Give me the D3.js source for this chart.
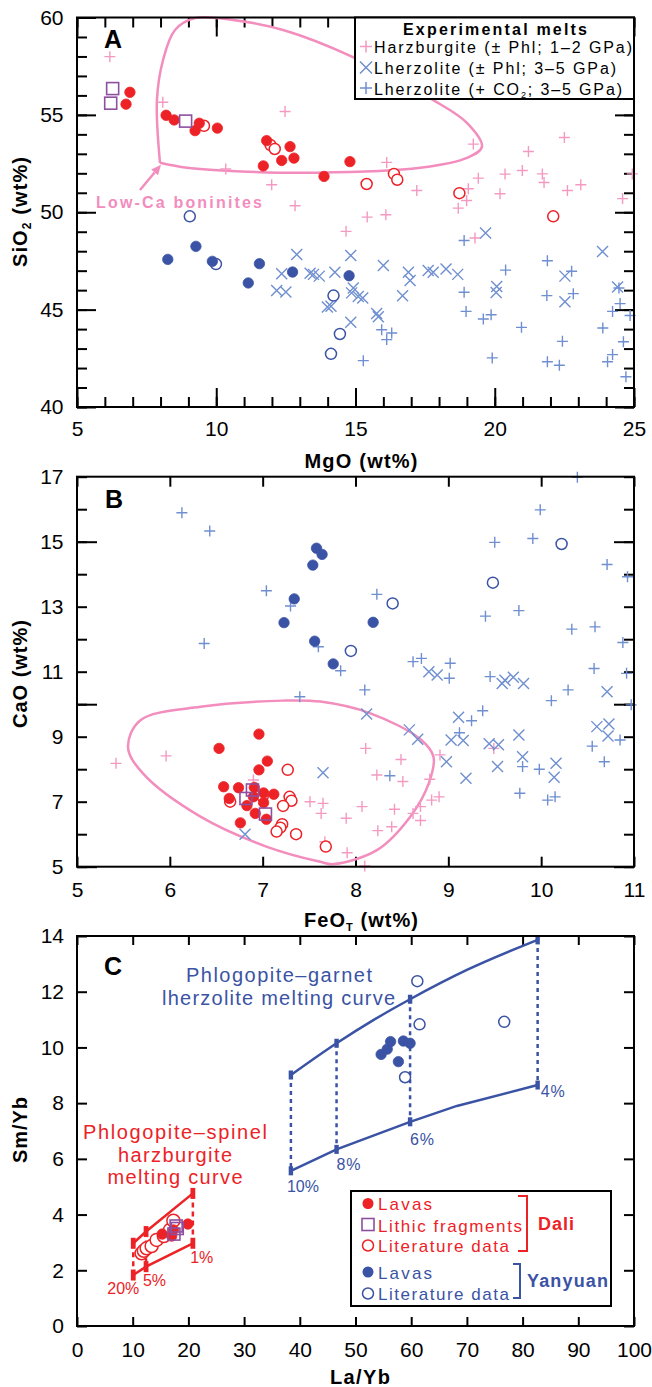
<!DOCTYPE html>
<html><head><meta charset="utf-8">
<script src="https://cdn.jsdelivr.net/npm/d3@7"></script>
<style>body{margin:0;background:#fff} svg text{font-family:Arial,"Liberation Sans",sans-serif}</style>
</head><body><svg id="c" width="652" height="1387"></svg>
<script>
// ---------- DATA ----------
// Panel A: MgO vs SiO2
const A_harz = [[6.18,57.99],[8.08,55.65],[12.47,55.17],[10.34,52.22],[11.99,51.41],[12.83,50.33],[19.23,53.5],[16.12,52.56],[17.2,51.12],[15.42,49.75],[16.09,49.87],[19.41,51.75],[19.05,51.21],[18.99,50.6],[18.69,50.21],[20.19,50.95],[20.37,51.96],[20.99,52.14],[21.21,53.12],[21.71,51.97],[21.77,51.53],[22.5,53.84],[22.61,51.12],[23.09,51.41],[24.59,50.7],[24.94,51.97],[14.66,49.02],[19.29,48.68]];
const A_lherz = [[12.89,47.83],[12.35,46.84],[12.17,45.98],[12.5,45.9],[13.37,46.87],[13.49,46.81],[13.7,46.72],[13.99,45.14],[14.26,46.92],[14.83,47.78],[14.12,45.17],[14.92,46.11],[14.86,45.86],[15.1,45.68],[15.26,45.6],[14.83,44.35],[16.0,47.27],[15.76,44.8],[15.82,44.63],[16.9,46.92],[16.96,46.49],[16.69,45.71],[17.61,47.01],[17.79,46.92],[18.25,47.09],[18.67,46.81],[19.67,48.93],[20.07,46.19],[20.05,45.88],[22.52,46.72],[22.52,45.41],[23.87,47.98],[24.41,46.16]];
const A_co2 = [[18.9,48.55],[18.9,45.89],[18.97,44.91],[19.59,44.52],[19.87,44.74],[20.39,47.03],[19.91,42.52],[20.96,44.09],[21.89,47.51],[21.87,45.72],[21.89,42.32],[22.32,42.14],[22.43,43.37],[22.76,46.97],[22.82,45.82],[23.88,44.06],[24.23,44.91],[24.5,45.31],[24.86,44.7],[24.62,43.35],[24.05,42.32],[24.23,42.69],[24.71,41.55],[24.46,46.11],[15.28,42.38],[15.94,43.97],[16.12,43.46],[16.3,43.8]];
const A_daliLava = [[6.9,56.16],[6.76,55.55],[8.2,54.98],[8.49,54.74],[9.24,54.19],[9.39,54.57],[10.04,54.32],[11.81,53.68],[12.65,53.37],[12.35,52.66],[12.79,52.78],[11.69,52.38],[13.87,51.84],[14.8,52.6]];
const A_daliLit = [[9.56,54.44],[11.95,53.45],[12.1,53.25],[15.4,51.45],[16.38,51.97],[16.5,51.67],[18.73,50.98],[22.1,49.79]];
const A_lithic = [[6.28,56.35],[6.21,55.6],[8.9,54.68]];
const A_yyLava = [[8.26,47.58],[9.27,48.25],[9.86,47.48],[11.55,47.36],[11.15,46.37],[12.74,46.93],[14.77,46.74]];
const A_yyLit = [[9.99,47.34],[9.05,49.79],[14.21,45.72],[14.44,43.75],[14.12,42.73]];
const A_boninite = [[7.98,52.54],[7.87,55.77],[8.09,57.82],[8.52,59.36],[9.24,59.97],[10.6,59.87],[12.4,59.36],[14.91,57.97],[17.78,55.77],[19.0,54.59],[19.54,53.36],[19.0,52.79],[17.32,52.28],[13.62,52.03],[10.35,52.13],[8.95,52.28],[7.98,52.54]];
const A_xTicks = [5,10,15,20,25];
const A_yTicks = [40,45,50,55,60];

// Panel B: FeOT vs CaO
const B_harz = [[5.42,8.18],[5.96,8.41],[6.9,7.67],[7.51,7.0],[7.63,6.64],[7.65,6.95],[8.11,8.64],[8.49,8.3],[8.23,7.82],[8.51,7.62],[8.8,7.69],[8.91,8.44],[9.49,8.64],[8.82,7.05],[8.9,7.15],[8.7,6.85],[8.62,6.64],[8.7,6.42],[8.42,6.77],[8.07,6.85],[7.9,6.49],[8.39,6.23],[8.24,6.11],[7.91,5.43],[8.1,5.02],[7.67,5.77]];
const B_lherz = [[7.65,7.89],[6.81,6.0],[8.79,11.0],[8.88,10.9],[9.58,10.64],[9.61,10.74],[9.7,10.83],[9.81,10.64],[10.71,10.38],[8.12,9.7],[8.58,9.21],[8.67,8.92],[9.11,9.6],[9.03,8.9],[9.16,8.88],[8.98,8.23],[9.19,7.72],[9.44,8.78],[9.54,8.75],[9.53,8.08],[9.76,9.05],[9.8,8.38],[10.16,8.18],[10.14,7.75],[10.6,9.31],[10.73,9.39],[10.72,9.02]];
const B_co2 = [[6.13,15.89],[6.43,15.33],[7.04,13.49],[7.3,13.02],[6.37,11.87],[7.6,11.77],[10.39,16.98],[9.99,15.98],[9.5,14.98],[9.91,15.1],[10.71,14.3],[10.93,13.92],[9.4,12.71],[9.76,12.88],[10.33,12.31],[10.58,12.38],[10.88,11.9],[8.23,13.38],[8.62,11.31],[8.71,11.41],[9.02,11.26],[10.57,11.1],[7.84,11.03],[9.01,10.8],[9.45,10.85],[8.1,10.44],[10.29,10.44],[10.92,10.95],[10.97,9.98],[10.11,10.11],[9.37,9.8],[9.25,9.49],[9.12,9.12],[8.37,7.8],[10.55,8.71],[10.68,8.23],[10.85,8.9],[9.77,7.26],[9.8,8.08],[9.98,8.0],[10.07,7.05],[10.15,7.15],[7.4,10.23]];
const B_daliLava = [[6.53,8.64],[6.96,9.08],[7.05,8.25],[6.96,7.98],[6.58,7.46],[6.74,7.43],[6.64,7.1],[6.91,7.44],[7.01,7.27],[7.12,7.23],[6.83,6.88],[7.01,6.97],[6.92,6.64],[7.04,6.46],[6.76,6.35],[6.9,7.15]];
const B_daliLit = [[7.27,7.98],[7.29,7.15],[7.31,7.03],[7.22,6.87],[7.0,7.15],[6.65,7.0],[7.21,6.31],[7.19,6.2],[7.15,6.08],[7.36,6.0],[7.68,5.62]];
const B_lithic = [[6.89,7.36],[6.82,7.1],[7.03,6.62]];
const B_yyLava = [[7.58,14.8],[7.64,14.61],[7.54,14.28],[7.34,13.24],[7.23,12.51],[7.56,11.94],[7.76,11.24],[8.19,12.52]];
const B_yyLit = [[8.4,13.1],[7.95,11.64],[9.48,13.74],[10.22,14.93]];
const B_boninite = [[5.55,8.67],[5.68,9.5],[6.33,9.92],[7.22,10.11],[7.62,10.08],[8.16,9.72],[8.7,8.92],[8.84,8.38],[8.79,7.57],[8.59,6.54],[8.23,5.51],[7.76,5.08],[7.62,5.15],[7.04,5.62],[6.33,6.54],[5.71,7.87]];
const B_xTicks = [5,6,7,8,9,10,11];
const B_yTicks = [5,7,9,11,13,15,17];

// Panel C: La/Yb vs Sm/Yb
const C_daliLava = [[15.3,3.3],[17.3,3.45],[19.9,3.66],[17.0,3.23]];
const C_daliLit = [[11.6,2.61],[12.0,2.7],[12.5,2.79],[13.4,2.87],[14.3,3.09],[15.6,3.23],[16.7,3.45],[17.3,3.78]];
const C_lithic = [[17.8,3.59],[18.0,3.5],[17.4,3.3]];
const C_yyLava = [[54.6,9.75],[55.7,9.94],[56.3,10.21],[58.6,10.23],[59.8,10.15],[57.7,9.49]];
const C_yyLit = [[61.1,12.38],[61.5,10.83],[58.9,8.93],[76.7,10.92]];
const C_garnetUpper = [[38.4,9.01],[46.6,10.15],[53.2,10.98],[59.8,11.73],[70,12.78],[82.7,13.86]];
const C_garnetLower = [[38.4,5.57],[46.6,6.34],[59.8,7.33],[68.2,7.9],[82.7,8.65]];
const C_garnetNodes = [[38.4,9.01,5.57],[46.6,10.15,6.34],[59.8,11.73,7.33],[82.7,13.86,8.65]];
const C_garnetLabels = ["10%","8%","6%","4%"];
const C_spinelUpper = [[10.1,2.97],[12.4,3.39],[20.8,4.76]];
const C_spinelLower = [[10.1,1.83],[12.4,2.13],[20.8,2.97]];
const C_spinelNodes = [[10.1,2.97,1.83],[12.4,3.39,2.13],[20.8,4.76,2.97]];
const C_spinelLabels = ["20%","5%","1%"];
const C_xTicks = [0,10,20,30,40,50,60,70,80,90,100];
const C_yTicks = [0,2,4,6,8,10,12,14];

// ---------- STYLE ----------
const PINK="#f49ac2", PINKL="#f28dbd", LBLUE="#6f8fd0", DBLUE="#3a53a4", RED="#ec2227", PURPLE="#8e4fa0";
const svg = d3.select("#c");
const L=77, R=634;

const xA=d3.scaleLinear([5,25],[L,R]), yA=d3.scaleLinear([40,60],[407,17.5]);
const xB=d3.scaleLinear([5,11],[L,R]), yB=d3.scaleLinear([5,17],[866.7,476.7]);
const xC=d3.scaleLinear([0,100],[L,R]), yC=d3.scaleLinear([0,14],[1326,936]);

function tickAxis(axisFn, scale, values, len, tr){
  const g=svg.append("g").attr("transform",tr);
  g.call(axisFn(scale).tickValues(values).tickSize(-len).tickFormat(""));
  g.select(".domain").remove();
  g.selectAll("line").attr("stroke","#000").attr("stroke-width",2);
}
function labelAxis(axisFn, scale, values, pad, tr){
  const g=svg.append("g").attr("transform",tr);
  g.call(axisFn(scale).tickValues(values).tickSize(0).tickPadding(pad).tickFormat(d3.format("d")));
  g.select(".domain").remove();
  g.attr("font-size",21).attr("font-family","Arial, 'Liberation Sans', sans-serif");
  g.selectAll("text").attr("fill","#000");
}
function frame(x,y){
  const [x0,x1]=x.range(), [y0,y1]=y.range();
  svg.append("rect").attr("x",x0).attr("y",y1).attr("width",x1-x0).attr("height",y0-y1)
    .attr("fill","none").attr("stroke","#000").attr("stroke-width",2);
}
function plus(g,data,x,y,s,col,w){
  g.selectAll(null).data(data).enter().append("path")
   .attr("d",d=>{const px=x(d[0]),py=y(d[1]);return `M${px-s},${py}H${px+s}M${px},${py-s}V${py+s}`;})
   .attr("stroke",col).attr("stroke-width",w||1.4).attr("fill","none");
}
function cross(g,data,x,y,s,col){
  g.selectAll(null).data(data).enter().append("path")
   .attr("d",d=>{const px=x(d[0]),py=y(d[1]);return `M${px-s},${py-s}L${px+s},${py+s}M${px-s},${py+s}L${px+s},${py-s}`;})
   .attr("stroke",col).attr("stroke-width",1.4).attr("fill","none");
}
function dots(g,data,x,y,r,col,open){
  g.selectAll(null).data(data).enter().append("circle")
   .attr("cx",d=>x(d[0])).attr("cy",d=>y(d[1])).attr("r",r)
   .attr("fill",open?"#fff":col).attr("stroke",col).attr("stroke-width",open?1.5:0.8);
}
function squares(g,data,x,y,s){
  g.selectAll(null).data(data).enter().append("rect")
   .attr("x",d=>x(d[0])-s/2).attr("y",d=>y(d[1])-s/2).attr("width",s).attr("height",s)
   .attr("fill","none").attr("stroke",PURPLE).attr("stroke-width",1.6);
}
function txt(x,y,s,opt){
  const t=svg.append("text").attr("x",x).attr("y",y).text(s)
   .attr("font-size",opt.size||16).attr("fill",opt.fill||"#000")
   .attr("font-weight",opt.bold?"bold":"normal").attr("text-anchor",opt.anchor||"start");
  if(opt.len) t.attr("textLength",opt.len).attr("lengthAdjust","spacing");
  return t;
}

// ================= PANEL A =================
{
  const minorX=d3.range(5,26,1), minorY=d3.range(40,61,1);
  tickAxis(d3.axisBottom,xA,minorX,10,`translate(0,407)`);
  tickAxis(d3.axisBottom,xA,A_xTicks,19,`translate(0,407)`);
  tickAxis(d3.axisTop,xA,minorX,10,`translate(0,17.5)`);
  tickAxis(d3.axisTop,xA,A_xTicks,19,`translate(0,17.5)`);
  tickAxis(d3.axisLeft,yA,minorY,10,`translate(${L},0)`);
  tickAxis(d3.axisLeft,yA,A_yTicks,19,`translate(${L},0)`);
  tickAxis(d3.axisRight,yA,minorY,10,`translate(${R},0)`);
  tickAxis(d3.axisRight,yA,A_yTicks,19,`translate(${R},0)`);
  labelAxis(d3.axisBottom,xA,A_xTicks,14,`translate(0,407)`);
  labelAxis(d3.axisLeft,yA,A_yTicks,13.5,`translate(${L},0)`);

  const g=svg.append("g");
  g.append("path").datum(A_boninite)
    .attr("d",d3.line().x(d=>xA(d[0])).y(d=>yA(d[1])).curve(d3.curveCatmullRom.alpha(0.5)))
    .attr("fill","none").attr("stroke",PINKL).attr("stroke-width",2.5);
  plus(g,A_harz,xA,yA,5.5,PINK);
  cross(g,A_lherz,xA,yA,5.5,LBLUE);
  plus(g,A_co2,xA,yA,5.5,LBLUE);
  dots(g,A_yyLit,xA,yA,5.5,DBLUE,true);
  dots(g,A_yyLava,xA,yA,5.2,DBLUE,false);
  dots(g,A_daliLit,xA,yA,5.5,RED,true);
  dots(g,A_daliLava,xA,yA,5.2,RED,false);
  squares(g,A_lithic,xA,yA,12);

  // arrow to cusp
  const tip=[xA(A_boninite[0][0])+1, yA(A_boninite[0][1])+2], tail=[140,190];
  const dx=tip[0]-tail[0], dy=tip[1]-tail[1], ln=Math.hypot(dx,dy), ux=dx/ln, uy=dy/ln;
  const bx=tip[0]-10*ux, by=tip[1]-10*uy;
  g.append("line").attr("x1",tail[0]).attr("y1",tail[1]).attr("x2",bx).attr("y2",by).attr("stroke",PINKL).attr("stroke-width",2.5);
  g.append("path").attr("d",`M${tip[0]},${tip[1]}L${bx-4.5*uy},${by+4.5*ux}L${bx+4.5*uy},${by-4.5*ux}Z`).attr("fill",PINKL);
  txt(96,208,"Low-Ca boninites",{size:16,bold:true,fill:PINKL,len:166});

  frame(xA,yA);
  // legend
  svg.append("rect").attr("x",355).attr("y",17.5).attr("width",279).attr("height",81.5)
    .attr("fill","#fff").attr("stroke","#000").attr("stroke-width",2);
  txt(495,35,"Experimental melts",{size:16,bold:true,anchor:"middle",len:184});
  const lg=svg.append("g");
  lg.append("path").attr("d","M360,46.5H372M366,40.5V52.5").attr("stroke",PINK).attr("stroke-width",1.5);
  lg.append("path").attr("d","M360,61.5L372,73.5M360,73.5L372,61.5").attr("stroke",LBLUE).attr("stroke-width",1.5);
  lg.append("path").attr("d","M360,88H372M366,82V94").attr("stroke",LBLUE).attr("stroke-width",1.5);
  txt(374,53,"Harzburgite (± Phl; 1–2 GPa)",{size:16,len:258});
  txt(374,73.5,"Lherzolite (± Phl; 3–5 GPa)",{size:16,len:242});
  const t3=svg.append("text").attr("x",374).attr("y",94.5).attr("font-size",16).attr("textLength",248).attr("lengthAdjust","spacing");
  t3.append("tspan").text("Lherzolite (+ CO");
  t3.append("tspan").attr("font-size",9).attr("dy",3).text("2");
  t3.append("tspan").attr("dy",-3).text("; 3–5 GPa)");

  txt(104,48,"A",{size:25,bold:true});
  txt(361,468,"MgO (wt%)",{size:20,bold:true,anchor:"middle",len:113});
  const yt=svg.append("text").attr("transform","translate(27,212) rotate(-90)").attr("text-anchor","middle")
     .attr("font-size",20).attr("font-weight","bold").attr("textLength",110).attr("lengthAdjust","spacing");
  yt.append("tspan").text("SiO");
  yt.append("tspan").attr("font-size",12).attr("dy",4).text("2");
  yt.append("tspan").attr("dy",-4).text(" (wt%)");
}

// ================= PANEL B =================
{
  const minorY=d3.range(5,18,1), majorY=[5,10,15];
  tickAxis(d3.axisBottom,xB,B_xTicks,10,`translate(0,866.7)`);
  tickAxis(d3.axisTop,xB,B_xTicks,10,`translate(0,476.7)`);
  tickAxis(d3.axisLeft,yB,minorY,10,`translate(${L},0)`);
  tickAxis(d3.axisLeft,yB,majorY,20,`translate(${L},0)`);
  tickAxis(d3.axisRight,yB,minorY,10,`translate(${R},0)`);
  tickAxis(d3.axisRight,yB,majorY,20,`translate(${R},0)`);
  labelAxis(d3.axisBottom,xB,B_xTicks,15,`translate(0,866.7)`);
  labelAxis(d3.axisLeft,yB,B_yTicks,13.5,`translate(${L},0)`);

  const g=svg.append("g");
  g.append("path").datum(B_boninite)
    .attr("d",d3.line().x(d=>xB(d[0])).y(d=>yB(d[1])).curve(d3.curveCatmullRomClosed.alpha(0.5)))
    .attr("fill","none").attr("stroke",PINKL).attr("stroke-width",2.5);
  plus(g,B_harz,xB,yB,5.5,PINK);
  cross(g,B_lherz,xB,yB,5.5,LBLUE);
  plus(g,B_co2,xB,yB,5.5,LBLUE);
  dots(g,B_yyLit,xB,yB,5.5,DBLUE,true);
  dots(g,B_yyLava,xB,yB,5.2,DBLUE,false);
  dots(g,B_daliLit,xB,yB,5.5,RED,true);
  dots(g,B_daliLava,xB,yB,5.2,RED,false);
  squares(g,B_lithic,xB,yB,12);
  frame(xB,yB);

  txt(105,508,"B",{size:25,bold:true});
  const xt=svg.append("text").attr("x",361).attr("y",927).attr("text-anchor","middle")
     .attr("font-size",20).attr("font-weight","bold").attr("textLength",114).attr("lengthAdjust","spacing");
  xt.append("tspan").text("FeO");
  xt.append("tspan").attr("font-size",11).attr("dy",4).text("T");
  xt.append("tspan").attr("dy",-4).text(" (wt%)");
  txt(0,0,"CaO (wt%)",{size:20,bold:true,anchor:"middle",len:108}).attr("x",null).attr("y",null)
     .attr("transform","translate(27,674) rotate(-90)");
}

// ================= PANEL C =================
{
  tickAxis(d3.axisBottom,xC,C_xTicks,9,`translate(0,1326)`);
  tickAxis(d3.axisTop,xC,C_xTicks,9,`translate(0,936)`);
  tickAxis(d3.axisLeft,yC,C_yTicks,10,`translate(${L},0)`);
  tickAxis(d3.axisRight,yC,C_yTicks,10,`translate(${R},0)`);
  labelAxis(d3.axisBottom,xC,C_xTicks,16,`translate(0,1326)`);
  labelAxis(d3.axisLeft,yC,C_yTicks,13,`translate(${L},0)`);

  const g=svg.append("g");
  const ln=d3.line().x(d=>xC(d[0])).y(d=>yC(d[1]));
  // garnet lherzolite curve
  g.selectAll(null).data(C_garnetNodes).enter().append("line")
   .attr("x1",d=>xC(d[0])).attr("x2",d=>xC(d[0])).attr("y1",d=>yC(d[1])).attr("y2",d=>yC(d[2]))
   .attr("stroke",DBLUE).attr("stroke-width",2.5).attr("stroke-dasharray","4,4");
  g.append("path").datum(C_garnetUpper).attr("d",ln.curve(d3.curveMonotoneX)).attr("fill","none").attr("stroke",DBLUE).attr("stroke-width",2.5);
  g.append("path").datum(C_garnetLower).attr("d",d3.line().x(d=>xC(d[0])).y(d=>yC(d[1]))).attr("fill","none").attr("stroke",DBLUE).attr("stroke-width",2.5);
  C_garnetNodes.forEach(d=>{[d[1],d[2]].forEach(v=>{
    g.append("rect").attr("x",xC(d[0])-2.2).attr("y",yC(v)-4.5).attr("width",4.4).attr("height",9).attr("fill",DBLUE);
  });});
  const gOff=[[-4,21],[0,21],[0,23],[3,12]];
  C_garnetNodes.forEach((d,i)=>txt(xC(d[0])+gOff[i][0],yC(d[2])+gOff[i][1],C_garnetLabels[i],{size:16,fill:DBLUE,len:i===0?32:24}));

  // spinel harzburgite curve
  g.selectAll(null).data(C_spinelNodes).enter().append("line")
   .attr("x1",d=>xC(d[0])).attr("x2",d=>xC(d[0])).attr("y1",d=>yC(d[1])).attr("y2",d=>yC(d[2]))
   .attr("stroke",RED).attr("stroke-width",2.5).attr("stroke-dasharray","5,4");
  g.append("path").datum(C_spinelUpper).attr("d",d3.line().x(d=>xC(d[0])).y(d=>yC(d[1]))).attr("fill","none").attr("stroke",RED).attr("stroke-width",2.5);
  g.append("path").datum(C_spinelLower).attr("d",d3.line().x(d=>xC(d[0])).y(d=>yC(d[1]))).attr("fill","none").attr("stroke",RED).attr("stroke-width",2.5);
  C_spinelNodes.forEach(d=>{[d[1],d[2]].forEach(v=>{
    g.append("rect").attr("x",xC(d[0])-2.4).attr("y",yC(v)-5.5).attr("width",4.8).attr("height",11).attr("fill",RED);
  });});
  const sOff=[[-26,19],[-3,19.5],[-2.5,20]];
  C_spinelNodes.forEach((d,i)=>txt(xC(d[0])+sOff[i][0],yC(d[2])+sOff[i][1],C_spinelLabels[i],{size:16,fill:RED,len:i===0?32:23}));

  dots(g,C_daliLit,xC,yC,6.5,RED,true);
  dots(g,C_daliLava,xC,yC,5.2,RED,false);
  squares(g,C_lithic,xC,yC,12);
  dots(g,C_yyLit,xC,yC,5.5,DBLUE,true);
  dots(g,C_yyLava,xC,yC,5.2,DBLUE,false);
  frame(xC,yC);

  txt(279,982,"Phlogopite–garnet",{size:20,fill:DBLUE,anchor:"middle",len:186});
  txt(278.5,1005,"lherzolite melting curve",{size:20,fill:DBLUE,anchor:"middle",len:233});
  txt(175,1139,"Phlogopite–spinel",{size:20,fill:RED,anchor:"middle",len:184});
  txt(175,1161.5,"harzburgite",{size:20,fill:RED,anchor:"middle",len:114});
  txt(175,1184,"melting curve",{size:20,fill:RED,anchor:"middle",len:135});

  // legend
  svg.append("rect").attr("x",351).attr("y",1191).attr("width",260).attr("height",115)
    .attr("fill","#fff").attr("stroke","#000").attr("stroke-width",2);
  const lg=svg.append("g");
  lg.append("circle").attr("cx",368).attr("cy",1203.5).attr("r",5.5).attr("fill",RED);
  lg.append("rect").attr("x",362).attr("y",1218.5).attr("width",12).attr("height",12).attr("fill","none").attr("stroke",PURPLE).attr("stroke-width",1.6);
  lg.append("circle").attr("cx",368).attr("cy",1245.5).attr("r",5.5).attr("fill","#fff").attr("stroke",RED).attr("stroke-width",1.5);
  lg.append("circle").attr("cx",368).attr("cy",1272).attr("r",5.5).attr("fill",DBLUE);
  lg.append("circle").attr("cx",368).attr("cy",1293.5).attr("r",5.5).attr("fill","#fff").attr("stroke",DBLUE).attr("stroke-width",1.5);
  txt(378,1210,"Lavas",{size:17,fill:RED,len:54});
  txt(378,1231.5,"Lithic fragments",{size:17,fill:RED,len:144});
  txt(378,1252,"Literature data",{size:17,fill:RED,len:131});
  txt(378,1278.5,"Lavas",{size:17,fill:DBLUE,len:54});
  txt(378,1300,"Literature data",{size:17,fill:DBLUE,len:131});
  lg.append("path").attr("d","M518,1196H527V1251H518").attr("fill","none").attr("stroke",RED).attr("stroke-width",2);
  lg.append("path").attr("d","M513,1264H520V1298H513").attr("fill","none").attr("stroke",DBLUE).attr("stroke-width",2);
  txt(538,1230,"Dali",{size:18,bold:true,fill:RED,len:36});
  txt(527,1287,"Yanyuan",{size:18,bold:true,fill:DBLUE,len:81});

  txt(104,975,"C",{size:25,bold:true});
  txt(360,1384,"La/Yb",{size:20,bold:true,anchor:"middle",len:60});
  txt(0,0,"Sm/Yb",{size:20,bold:true,anchor:"middle",len:66}).attr("x",null).attr("y",null)
     .attr("transform","translate(27,1130) rotate(-90)");
}
</script></body></html>
